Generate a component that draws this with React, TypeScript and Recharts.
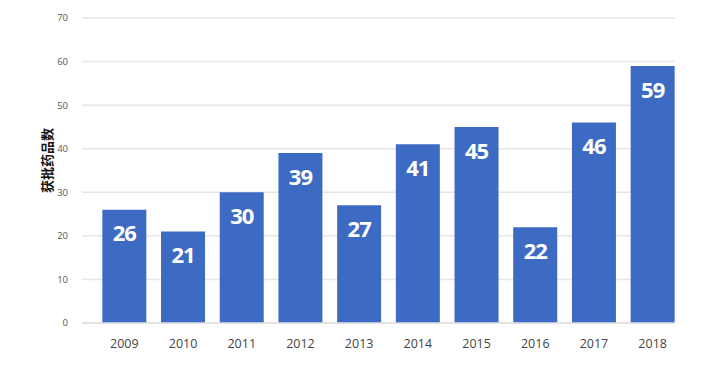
import React from 'react';
import { BarChart, Bar, XAxis, YAxis, CartesianGrid, LabelList, Label } from 'recharts';

const years = ['2009', '2010', '2011', '2012', '2013', '2014', '2015', '2016', '2017', '2018'];
const approvals = [26, 21, 30, 39, 27, 41, 45, 22, 46, 59];
const yTicks = [0, 10, 20, 30, 40, 50, 60, 70];
const yAxisTitle = '获批药品数';

const data = years.map((year, i) => ({ year, value: approvals[i] }));

const YTitle = (props: any) => {
  const vb = props.viewBox || {};
  const cx = vb.x + 24;
  const cy = vb.y + vb.height / 2 - 10;
  return (
    <text
      x={cx}
      y={cy}
      transform={`rotate(-90, ${cx}, ${cy})`}
      textAnchor="middle"
      dominantBaseline="central"
      style={{ fill: '#111', fontSize: 13, fontWeight: 'bold', fontFamily: 'Noto Sans CJK SC' }}
    >
      {yAxisTitle}
    </text>
  );
};

export default function App() {
  return (
    <div style={{ position: 'absolute', left: 0, top: 0, background: '#fff' }}>
      <BarChart
        width={727}
        height={381}
        data={data}
        margin={{ top: 18, right: 52, left: 22, bottom: 28 }}
        barCategoryGap="12.5%"
      >
        <CartesianGrid vertical={false} stroke="#e6e6e6" strokeWidth={1.5} />
        <XAxis
          dataKey="year"
          height={30}
          padding={{ left: 13, right: -7 }}
          tickLine={false}
          axisLine={{ stroke: '#e0e0e0', strokeWidth: 1.5 }}
          tick={{ fill: '#444', fontSize: 12.5, fontFamily: 'Open Sans' }}
          tickMargin={10}
        />
        <YAxis
          width={60}
          domain={[0, 70]}
          ticks={yTicks}
          axisLine={false}
          tickLine={false}
          tick={{ fill: '#555', fontSize: 9.5, fontFamily: 'Open Sans' }}
          tickMargin={8}
        >
          <Label content={<YTitle />} />
        </YAxis>
        <Bar dataKey="value" fill="#3d6bc4" isAnimationActive={false}>
          <LabelList
            dataKey="value"
            position="insideTop"
            offset={16}
            style={{ fill: '#fff', fontSize: 22, fontWeight: 'bold', fontFamily: 'Open Sans', letterSpacing: -1 }}
          />
        </Bar>
      </BarChart>
    </div>
  );
}
